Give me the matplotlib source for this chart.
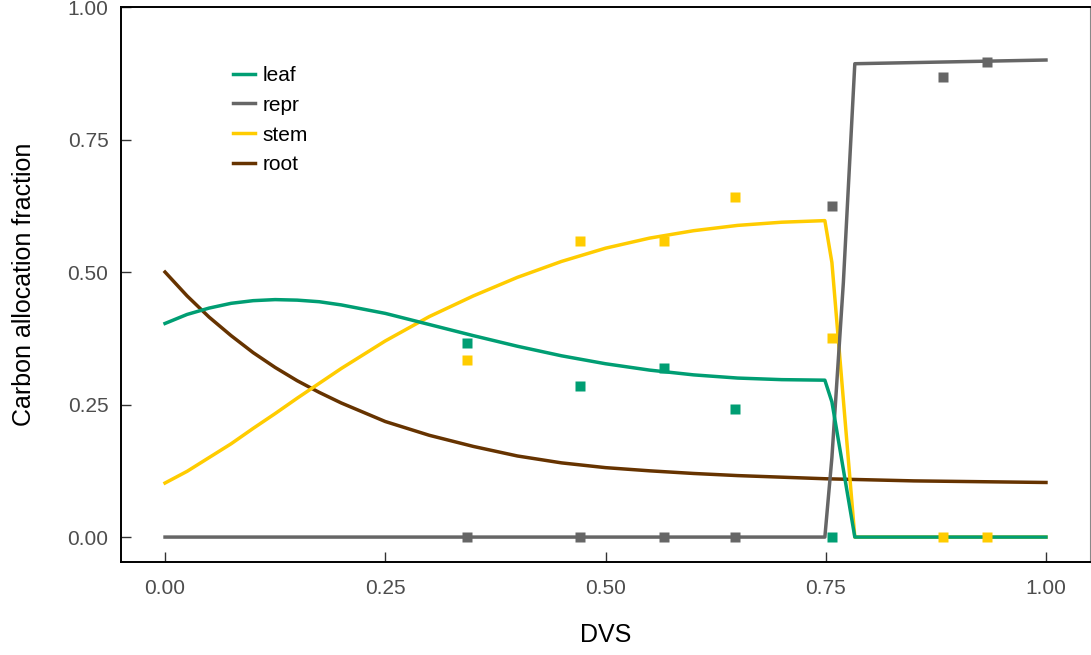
import matplotlib

matplotlib.use("Agg")
import matplotlib.pyplot as plt

plt.rcParams["font.family"] = ["Liberation Sans", "DejaVu Sans"]

# ── Simulated allocation curves ──────────────────────────────────────
leaf_dvs = [0.0, 0.025, 0.05, 0.075, 0.10, 0.125, 0.15, 0.175, 0.20, 0.25,
            0.30, 0.35, 0.40, 0.45, 0.50, 0.55, 0.60, 0.65, 0.70, 0.749,
            0.757, 0.783, 1.0]
leaf_frac = [0.403, 0.420, 0.432, 0.441, 0.446, 0.448, 0.447, 0.444, 0.438,
             0.422, 0.401, 0.380, 0.360, 0.342, 0.327, 0.315, 0.306, 0.300,
             0.297, 0.296, 0.255, 0.0, 0.0]

repr_dvs = [0.0, 0.749, 0.757, 0.770, 0.783, 1.0]
repr_frac = [0.0, 0.0, 0.15, 0.48, 0.893, 0.900]

stem_dvs = [0.0, 0.025, 0.05, 0.075, 0.10, 0.125, 0.15, 0.175, 0.20, 0.25,
            0.30, 0.35, 0.40, 0.45, 0.50, 0.55, 0.60, 0.65, 0.70, 0.749,
            0.757, 0.783, 1.0]
stem_frac = [0.102, 0.124, 0.150, 0.176, 0.205, 0.233, 0.262, 0.290, 0.318,
             0.370, 0.416, 0.455, 0.490, 0.520, 0.545, 0.564, 0.578, 0.588,
             0.594, 0.597, 0.518, 0.0, 0.0]

root_dvs = [0.0, 0.025, 0.05, 0.075, 0.10, 0.125, 0.15, 0.175, 0.20, 0.25,
            0.30, 0.35, 0.40, 0.45, 0.50, 0.55, 0.60, 0.65, 0.70, 0.75,
            0.80, 0.85, 0.90, 0.95, 1.0]
root_frac = [0.500, 0.455, 0.415, 0.380, 0.348, 0.320, 0.295, 0.273, 0.253,
             0.218, 0.192, 0.171, 0.153, 0.140, 0.131, 0.125, 0.120, 0.116,
             0.113, 0.110, 0.108, 0.106, 0.105, 0.104, 0.103]

# ── Observations ─────────────────────────────────────────────────────
obs_dvs = [0.343, 0.471, 0.566, 0.647, 0.757, 0.883, 0.933]
obs_leaf = [0.367, 0.285, 0.319, 0.242, 0.0, None, None]
obs_stem = [0.335, 0.558, 0.558, 0.641, 0.376, 0.0, 0.0]
obs_repr = [0.0, 0.0, 0.0, 0.0, 0.624, 0.868, 0.897]

colors = {
    "leaf": "#009E73",
    "repr": "#666666",
    "stem": "#FFCC00",
    "root": "#663300",
}


def pairs(xs, ys):
    pts = [(x, y) for x, y in zip(xs, ys) if y is not None]
    return [p[0] for p in pts], [p[1] for p in pts]


def main():
    fig = plt.figure(figsize=(10.91, 6.55), dpi=100)
    ax = fig.add_axes([0.1109, 0.1420, 0.8882, 0.8473])

    lw = 2.5
    ax.plot(root_dvs, root_frac, color=colors["root"], lw=lw, label="root", zorder=2)
    ax.plot(repr_dvs, repr_frac, color=colors["repr"], lw=lw, label="repr", zorder=2.2)
    ax.plot(stem_dvs, stem_frac, color=colors["stem"], lw=lw, label="stem", zorder=2.1)
    ax.plot(leaf_dvs, leaf_frac, color=colors["leaf"], lw=lw, label="leaf", zorder=2.3)

    for key, ys in (("leaf", obs_leaf), ("stem", obs_stem), ("repr", obs_repr)):
        xs, vs = pairs(obs_dvs, ys)
        ax.plot(xs, vs, ls="none", marker="s", ms=7.8, mec="none",
                color=colors[key], zorder=3)

    ax.set_xlim(-0.05, 1.05)
    ax.set_ylim(-0.047, 1.0)
    ticks = [0.0, 0.25, 0.5, 0.75, 1.0]
    ax.set_xticks(ticks)
    ax.set_yticks(ticks)
    ax.set_xticklabels([f"{t:.2f}" for t in ticks])
    ax.set_yticklabels([f"{t:.2f}" for t in ticks])
    ax.tick_params(direction="in", length=7, width=1.0, color="#333333",
                   labelcolor="#4D4D4D", labelsize=15)
    ax.tick_params(axis="x", pad=12)
    ax.tick_params(axis="y", pad=9)

    for side in ("left", "bottom", "top"):
        ax.spines[side].set_linewidth(1.4)
        ax.spines[side].set_color("black")
    ax.spines["right"].set_linewidth(0.8)
    ax.spines["right"].set_color("#888888")

    ax.set_xlabel("DVS", fontsize=18)
    ax.set_ylabel("Carbon allocation fraction", fontsize=18)
    ax.xaxis.set_label_coords(0.5, -0.11)
    ax.yaxis.set_label_coords(-0.088, 0.5)

    handles, labels = ax.get_legend_handles_labels()
    order = ["leaf", "repr", "stem", "root"]
    hmap = dict(zip(labels, handles))
    ax.legend([hmap[k] for k in order], order, loc="upper left",
              bbox_to_anchor=(0.1156, 0.894), frameon=False, fontsize=15,
              borderaxespad=0, borderpad=0, handlelength=1.05,
              handletextpad=0.35, labelspacing=0.52)

    fig.savefig("out.png", dpi=100)


if __name__ == "__main__":
    main()
